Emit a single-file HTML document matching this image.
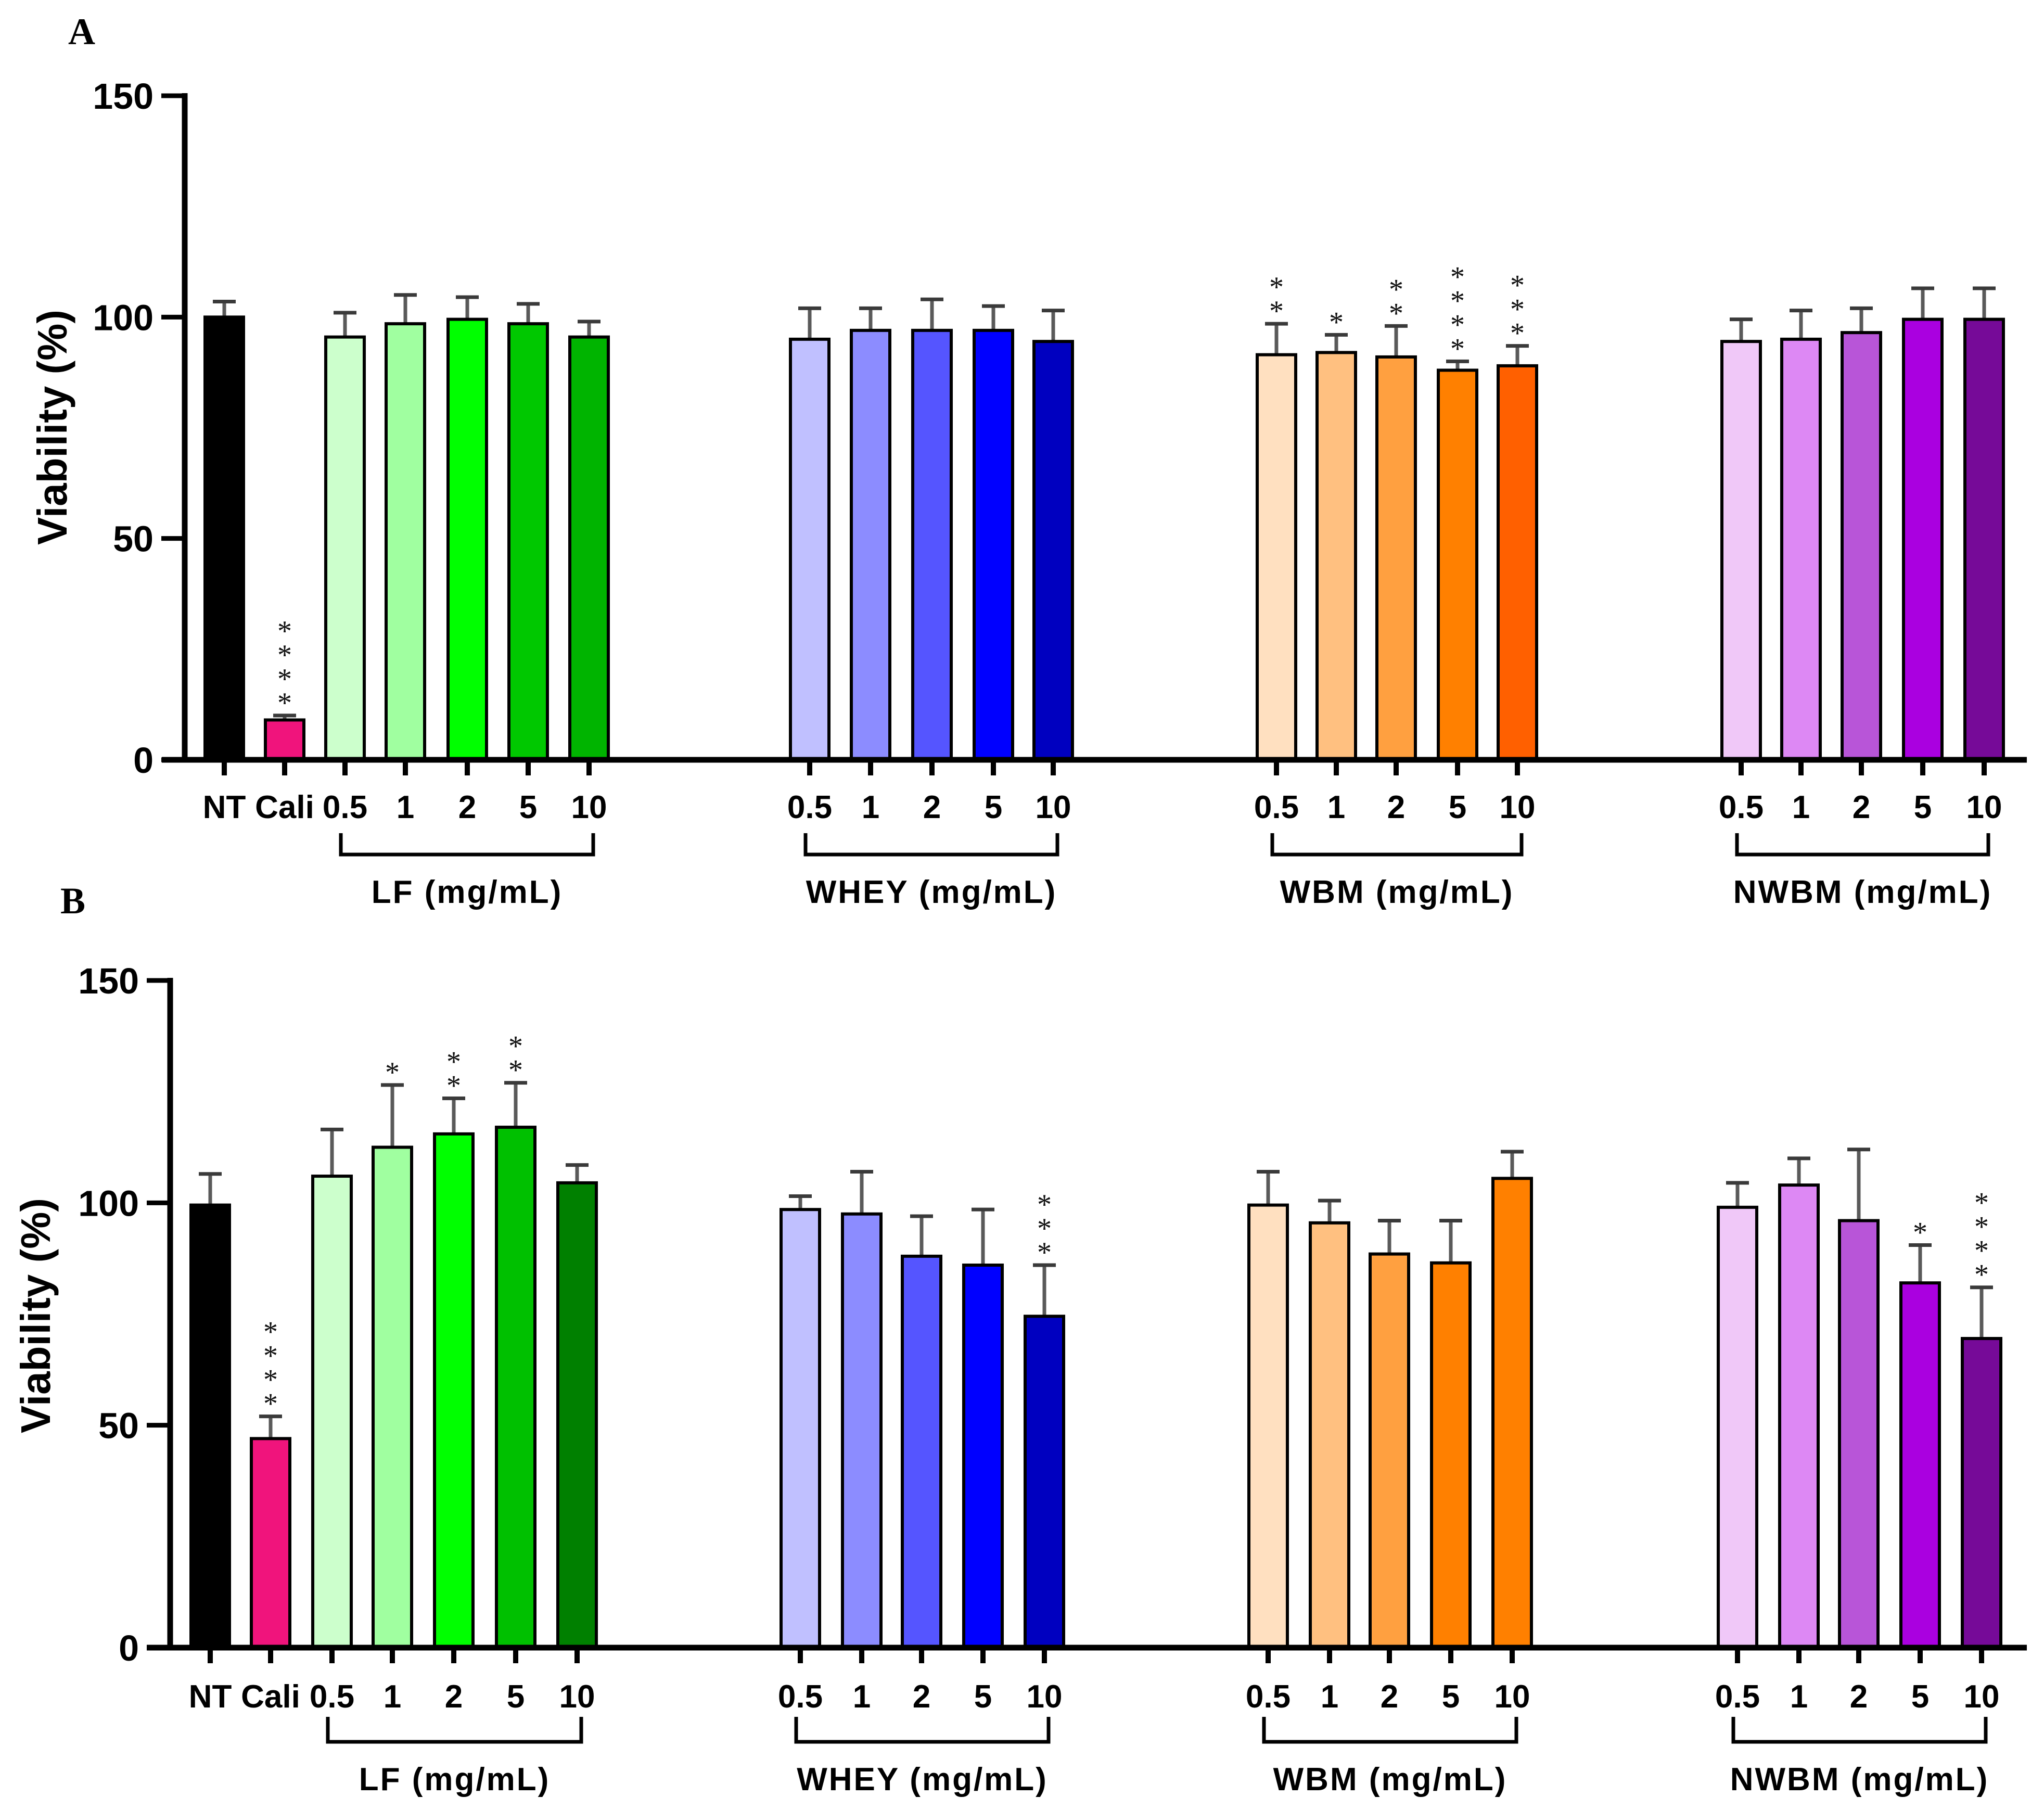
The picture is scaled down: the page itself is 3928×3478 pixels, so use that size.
<!DOCTYPE html>
<html><head><meta charset="utf-8"><style>
html,body{margin:0;padding:0;background:#fff;width:3928px;height:3478px;overflow:hidden}
svg{display:block}
</style></head><body>
<svg id="chart" width="3928" height="3478" viewBox="0 0 3928 3478" xmlns="http://www.w3.org/2000/svg" font-family="Liberation Sans, Arial, sans-serif"></svg>
<script>
const categoryLabels = ["NT","Cali","0.5","1","2","5","10","0.5","1","2","5","10","0.5","1","2","5","10","0.5","1","2","5","10"];
const groupNames = ["LF (mg/mL)","WHEY (mg/mL)","WBM (mg/mL)","NWBM (mg/mL)"];
const yTicks = [0,50,100,150];
const valuesA = [100,9,95.5,98.5,99.5,98.5,95.5,95,97,97,97,94.5,91.5,92,91,88,89,94.5,95,96.5,99.5,99.5];
const errorsA = [3.5,1,5.5,6.5,5,4.5,3.5,7,5,7,5.5,7,7,4,7,2,4.5,5,6.5,5.5,7,7];
const starsA = [0,4,0,0,0,0,0,0,0,0,0,0,2,1,2,4,3,0,0,0,0,0];
const valuesB = [99.5,47,106,112.5,115.5,117,104.5,98.5,97.5,88,86,74.5,99.5,95.5,88.5,86.5,105.5,99,104,96,82,69.5];
const errorsB = [7,5,10.5,14,8,10,4,3,9.5,9,12.5,11.5,7.5,5,7.5,9.5,6,5.5,6,16,8.5,11.5];
const starsB = [0,4,0,1,2,2,0,0,0,0,0,3,0,0,0,0,0,0,0,0,1,4];
const colorsA = ["#000000","#f0147c","#ccffcc","#a0ffa0","#00ff00","#00c800","#00b400","#c0c0ff","#8c8cff","#5555ff","#0000ff","#0000c0","#ffe0c0","#ffc080","#ffa040","#ff8000","#ff6000","#f0c8f8","#dd88f4","#b855d8","#aa00e0","#760a98"];
const colorsB = ["#000000","#f0147c","#ccffcc","#a0ffa0","#00ff00","#00c000","#008000","#c0c0ff","#8c8cff","#5555ff","#0000ff","#0000c0","#ffe0c0","#ffc080","#ffa040","#ff8000","#ff8000","#f0c8f8","#dd88f4","#b855d8","#aa00e0","#760a98"];

const NS="http://www.w3.org/2000/svg";
const svg=document.getElementById('chart');
function el(tag,attrs,parent){const e=document.createElementNS(NS,tag);for(const k in attrs)e.setAttribute(k,attrs[k]);(parent||svg).appendChild(e);return e;}
const SERIF='Liberation Serif, serif';

const panels=[
 {id:'a',letter:'A',lx:157,ly:85,axisX:355,y0:1460,y150:184,base0:311,
  centers:[431,547,663,779,898,1015,1132,1556,1673,1791,1909,2024,2453,2568,2683,2801,2916,3346,3461,3577,3695,3813],
  labelY:1552,brTop:1601,brBot:1642,gLabelY:1735,titleX:100,titleY:821,
  values:valuesA,errors:errorsA,stars:starsA,colors:colorsA},
 {id:'b',letter:'B',lx:140,ly:1755,axisX:327,y0:3166,y150:1884,base0:282,
  centers:[404,520,638,754,872,991,1109,1538,1656,1771,1889,2007,2437,2555,2670,2788,2906,3339,3457,3572,3690,3808],
  labelY:3261,brTop:3299,brBot:3347,gLabelY:3440,titleX:68,titleY:2528,
  values:valuesB,errors:errorsB,stars:starsB,colors:colorsB}
];
const groupRanges=[[2,6],[7,11],[12,16],[17,21]];

panels.forEach(p=>{
  const g=el('g',{});
  
  
  const yScale=v=>p.y0-(v/150)*(p.y0-p.y150);
  const L=el('text',{x:p.lx,y:p.ly,'font-size':72,'font-weight':'bold','font-family':SERIF,'text-anchor':'middle'},g);
  L.textContent=p.letter;
  
  
  const t=el('text',{x:0,y:0,'font-size':80,'font-weight':'bold','text-anchor':'middle',transform:`translate(${p.titleX+28},${p.titleY}) rotate(-90)`},g);
  t.textContent='Viability (%)';
  
  
  p.values.forEach((v,i)=>{
    const cx=p.centers[i],w=74,top=yScale(v);
    const eTop=yScale(v+p.errors[i]);
    const eb=el('line',{x1:cx,x2:cx,y1:top,y2:eTop,stroke:'#5a5a5a','stroke-width':7},g);
    
    
    const cap=el('line',{x1:cx-22,x2:cx+22,y1:eTop,y2:eTop,stroke:'#3a3a3a','stroke-width':7},g);
    
    
    const r=el('rect',{x:cx-w/2,y:top,width:w,height:p.y0-top,fill:p.colors[i],stroke:'#000','stroke-width':6},g);
    
    
    for(let s=0;s<p.stars[i];s++){
      const st=el('text',{x:cx,y:eTop-30-s*46+24,'font-size':56,'font-family':SERIF,'text-anchor':'middle',fill:'#111'},g);
      st.textContent='*';
      
      
    }
    const tk=el('line',{x1:cx,x2:cx,y1:p.y0,y2:p.y0+30,stroke:'#000','stroke-width':10},g);
    
    
    const lb=el('text',{x:cx,y:p.labelY+20,'font-size':62,'font-weight':'bold','text-anchor':'middle'},g);
    lb.textContent=categoryLabels[i];
    
    
  });
  const ya=el('line',{x1:p.axisX,x2:p.axisX,y1:p.y150-5,y2:p.y0+5,stroke:'#000','stroke-width':11},g);
  
  
  const xa=el('line',{x1:p.base0,x2:3895,y1:p.y0,y2:p.y0,stroke:'#000','stroke-width':11},g);
  
  
  yTicks.forEach(v=>{
    const y=yScale(v);
    const tl=el('line',{x1:p.axisX-45,x2:p.axisX,y1:y,y2:y,stroke:'#000','stroke-width':9},g);
    
    
    const tx=el('text',{x:p.axisX-60,y:y+25,'font-size':70,'font-weight':'bold','text-anchor':'end'},g);
    tx.textContent=String(v);
    
    
  });
  groupRanges.forEach((rg,gi)=>{
    const x1=p.centers[rg[0]]-8,x2=p.centers[rg[1]]+8;
    const br=el('path',{d:`M${x1},${p.brTop} L${x1},${p.brBot} L${x2},${p.brBot} L${x2},${p.brTop}`,fill:'none',stroke:'#000','stroke-width':7},g);
    
    
    const gl=el('text',{x:(x1+x2)/2,y:p.gLabelY,'font-size':62,'font-weight':'bold','text-anchor':'middle','letter-spacing':3},g);
    gl.textContent=groupNames[gi];
    
    
  });
});
</script>
</body></html>
